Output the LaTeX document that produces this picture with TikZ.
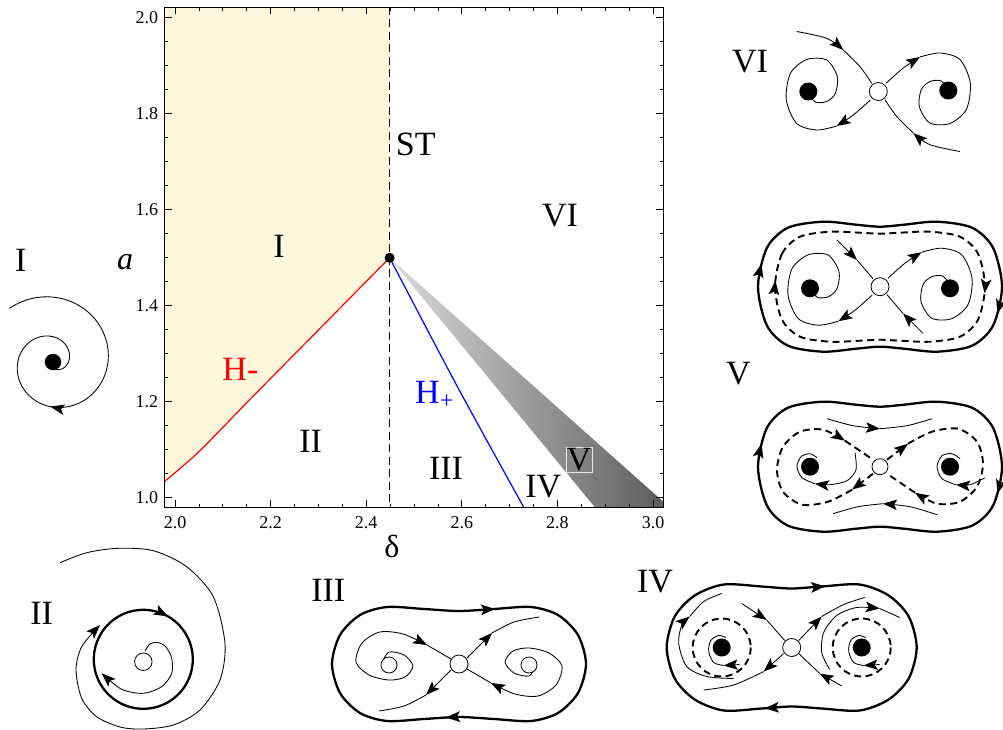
\documentclass[tikz,border=0pt]{standalone}
\usepackage{fontspec}
\setmainfont{Liberation Serif}
\usetikzlibrary{arrows.meta,decorations.markings}
\definecolor{regionyellow}{RGB}{255,248,220}
\newcommand{\sinkspiral}[1]{%
  \draw[flow,tip] plot[smooth] coordinates {(#1*-8,#1*8.5) (#1*-25,#1*23.5) (#1*-41.6,#1*34.5)};
  \draw[flow] plot[smooth] coordinates {(#1*-41.6,#1*34.5) (#1*-61.6,#1*38.5) (#1*-81.6,#1*32) (#1*-92,#1*8.5) (#1*-88,#1*-18) (#1*-71.6,#1*-32) (#1*-51.6,#1*-31.5) (#1*-41,#1*-15) (#1*-43,#1*2) (#1*-51.6,#1*10) (#1*-61.6,#1*11) (#1*-66.6,#1*7)}}
\newcommand{\orbitV}{\draw[orbit,arr=0.48,arr=0.974] plot[smooth cycle] coordinates {(-122,0) (-113,-39) (-92,-59) (-57,-65) (-24,-62) (0,-60) (24,-62) (57,-65) (92,-59) (113,-39) (122,0) (113,39) (92,59) (57,65) (24,62) (0,60) (-24,62) (-57,65) (-92,59) (-113,39)}}

\begin{document}
\begin{tikzpicture}[x=1pt,y=-1pt,
  flow/.style={line width=0.85pt},
  orbit/.style={line width=2.3pt},
  cyc/.style={line width=1.9pt,dash pattern=on 7pt off 4.5pt},
  tip/.style={-{Stealth[length=14pt,width=10.5pt,inset=3pt]}},
  arr/.style={postaction={decorate,decoration={markings,
      mark=at position #1 with {\arrow{Stealth[length=14pt,width=10.5pt,inset=3pt]}}}}},
  src/.style={circle,draw,fill=white,line width=0.8pt,minimum size=18pt,inner sep=0pt},
  sink/.style={circle,fill=black,minimum size=18pt,inner sep=0pt},
  lbl/.style={font=\fontsize{34}{34}\selectfont,inner sep=0pt},
  ticklbl/.style={font=\fontsize{18}{18}\selectfont,inner sep=0pt}]
\useasboundingbox (0,0) rectangle (1003,730);

% parameter plane (delta, a)
\begin{scope}[shift={(-781,977.3)},x=478pt,y=480pt]
  \fill[regionyellow] (1.9776,2.0215) -- (2.449,2.0215) -- (2.449,1.499)
    -- plot[smooth] coordinates {(2.449,1.499) (2.35,1.399) (2.25,1.298) (2.15,1.197) (2.05,1.095) (1.9776,1.0325)} -- cycle;
  \shade[left color=black!14,right color=black!64] (2.449,1.499) -- (3.0224,0.99) -- (3.0224,0.9785) -- (2.879,0.9785) -- cycle;
  \draw[red,line width=1.2pt] plot[smooth] coordinates {(1.9776,1.0325) (2.05,1.095) (2.15,1.197) (2.25,1.298) (2.35,1.399) (2.449,1.499)};
  \draw[blue,line width=1.2pt] plot[smooth] coordinates {(2.449,1.499) (2.59,1.232) (2.73,0.9785)};
  \draw[line width=1.3pt,dash pattern=on 8pt off 4.5pt] (2.449,2.0215) -- (2.449,0.9785);
  \draw[line width=0.9pt] (1.9776,0.9785) rectangle (3.0224,2.0215);
  \foreach \i in {0,...,20} {
    \pgfmathsetmacro{\dx}{2+0.05*\i}
    \pgfmathsetmacro{\ay}{1+0.05*\i}
    \draw[line width=0.7pt] (\dx,0.9785) -- ++(0,4pt) (\dx,2.0215) -- ++(0,-4pt)
      (1.9776,\ay) -- ++(4pt,0) (3.0224,\ay) -- ++(-4pt,0);
  }
  \foreach \t [count=\k] in {2.0,2.2,2.4,2.6,2.8,3.0} {
    \draw[line width=0.7pt] (\t,0.9785) -- ++(0,7.5pt) (\t,2.0215) -- ++(0,-7.5pt);
    \node[ticklbl,anchor=north] (xt\k) at ([yshift=-9pt]\t,0.9785) {\t};
  }
  \foreach \t [count=\k] in {1.0,1.2,1.4,1.6,1.8,2.0} {
    \draw[line width=0.7pt] (1.9776,\t) -- ++(7.5pt,0) (3.0224,\t) -- ++(-7.5pt,0);
    \node[ticklbl,anchor=east] (yt\k) at ([xshift=-6pt]1.9776,\t) {\t};
  }
  \node[circle,fill=black,inner sep=0pt,minimum size=10pt] (st) at (2.449,1.499) {};
\end{scope}

% region labels
\node[lbl] (lST) at (415.8,144.6) {ST};
\node[lbl] (lVIp) at (560,216) {VI};
\node[lbl] (lIp) at (279,246.4) {I};
\node[lbl] (lIIp) at (310.6,441) {II};
\node[lbl] (lIIIp) at (446,468.3) {III};
\node[lbl] (lIVp) at (543.3,486.7) {IV};
\node[lbl,draw=black!9,line width=0.4pt,minimum width=26pt,minimum height=25pt] (lVp) at (578.8,459.2) {V};
\node[lbl,text=red] (lHm) at (240.4,369) {H-};
\node[lbl,text=blue,anchor=base west] (lHp) at (415,403) {H\raisebox{-5pt}{\fontsize{24}{24}\selectfont +}};
\node[font=\fontsize{32}{32}\selectfont\itshape,inner sep=0pt] (la) at (125,262) {a};
\node[font=\fontsize{32}{32}\selectfont,inner sep=0pt] (ld) at (392,546.4) {δ};

% portrait labels
\node[lbl] (tI) at (20.7,260) {I};
\node[lbl] (tII) at (41.7,613.3) {II};
\node[lbl] (tIII) at (328.3,590) {III};
\node[lbl] (tIV) at (655,582) {IV};
\node[lbl] (tV) at (738.3,373.3) {V};
\node[lbl] (tVI) at (750,61.7) {VI};

% I
\draw[flow,arr=0.58] plot[domain=-129:440,samples=150,variable=\t] ({53+(55-0.11*\t)*cos(\t)},{362+(55-0.11*\t)*sin(\t)});
\node[sink,minimum size=16.5pt] (fI) at (53,362) {};

% II
\draw[orbit,arr=0.833] plot[domain=0:360,samples=91,variable=\t] ({143.3+49.5*cos(\t)},{659.3+49.5*sin(\t)}) -- cycle;
\draw[flow,tip] plot[smooth] coordinates {(60,562.7) (86.7,552.7) (118.3,548.3) (153.3,550.7) (186.7,566.7) (213.3,596.7) (225,643.3) (220,680) (200,710) (173.3,725) (143.3,729) (120,727) (96.7,716.7) (81.7,698.3) (76,670) (81.7,646.7) (100,625)};
\draw[flow,tip] plot[smooth] coordinates {(145,651) (150,644) (158,642.5) (166,647) (171.7,658.3) (171.7,673.3) (161.7,686.7) (143.3,693.3) (121.7,689.3) (101.7,673.3)};
\node[src,minimum size=17.5pt] (fII) at (143.3,661.7) {};

% III
\begin{scope}[shift={(459,664)}]
  \draw[orbit,arr=0.259,arr=0.723] plot[smooth cycle] coordinates {(-127,0) (-119,-29) (-99,-49) (-72,-57) (-35,-55) (0,-53) (35,-55) (72,-57) (99,-49) (119,-29) (127,0) (119,29) (99,49) (72,57) (35,55) (0,53) (-35,55) (-72,57) (-99,49) (-119,29)};
  \foreach \sg in {1,-1} {
    \draw[flow,tip] plot[smooth] coordinates {(\sg*-76,\sg*-3) (\sg*-70,\sg*-12) (\sg*-55,\sg*-9) (\sg*-46,\sg*2) (\sg*-54,\sg*13) (\sg*-70,\sg*16) (\sg*-90,\sg*11) (\sg*-103,\sg*-2) (\sg*-97,\sg*-21) (\sg*-79,\sg*-32) (\sg*-56,\sg*-30) (\sg*-32,\sg*-19)};
    \draw[flow] (\sg*-32,\sg*-19) -- (\sg*-8,\sg*-5);
    \draw[flow,tip] (\sg*8,\sg*-6) -- (\sg*33,\sg*-31);
    \draw[flow] plot[smooth] coordinates {(\sg*33,\sg*-31) (\sg*55,\sg*-42) (\sg*80,\sg*-47)};
  }
  \node[src] (sIII) at (0,0) {};
  \node[src,minimum size=16pt] (lIII) at (-70,1) {};
  \node[src,minimum size=16pt] (rIII) at (70,1) {};
\end{scope}

% IV
\begin{scope}[shift={(791.7,647.5)}]
  \draw[orbit,arr=0.252,arr=0.742] plot[smooth cycle] coordinates {(-125,0) (-117,-31) (-97,-52) (-68,-63) (-30,-61) (0,-59) (30,-61) (68,-63) (97,-52) (117,-31) (125,0) (117,31) (97,52) (68,63) (30,61) (0,59) (-30,61) (-68,63) (-97,52) (-117,31)};
  \foreach \c/\n in {-70/l,70/r} {
    \draw[cyc] (\c,0) circle[radius=29];
    \draw[flow,tip] (\c+18,17) -- (\c+2,18);
    \draw[flow] plot[smooth] coordinates {(\c+2,18) (\c-8,15) (\c-13,4) (\c-11,-7) (\c-3,-12) (\c+4,-10)};
    \node[sink] (f\n IV) at (\c,0) {};
  }
  \draw[flow,tip] plot[smooth] coordinates {(-58,31) (-85,29) (-105,19) (-113,-4) (-110,-22) (-102,-31)};
  \draw[flow] plot[smooth] coordinates {(-102,-31) (-88,-46) (-70,-54)};
  \draw[flow,tip] plot[smooth] coordinates {(38,22) (30,5) (32,-15) (45,-32) (65,-40) (88,-39)};
  \draw[flow] (88,-39) -- (108,-30);
  \draw[flow,tip] (-50,-44) -- (-25,-27.5);
  \draw[flow] (-25,-27.5) -- (-7,-7);
  \draw[flow,tip] (50,38.5) -- (28,26);
  \draw[flow] (28,26) -- (7,6);
  \draw[flow,tip] (7,-7) -- (30,-31);
  \draw[flow] plot[smooth] coordinates {(30,-31) (52,-43) (73,-50)};
  \draw[flow,tip] (-8,6) -- (-28,24);
  \draw[flow] plot[smooth] coordinates {(-28,24) (-58,37.5) (-88,42.5)};
  \node[src] (sIV) at (0,0) {};
\end{scope}

% VI
\begin{scope}[shift={(878.3,91.5)}]
  \foreach \sg in {1,-1} {
    \sinkspiral{\sg};
    \draw[flow,tip] plot[smooth] coordinates {(\sg*-81.6,\sg*-60) (\sg*-51.6,\sg*-53.2) (\sg*-35,\sg*-41.5)};
    \draw[flow] plot[smooth] coordinates {(\sg*-35,\sg*-41.5) (\sg*-18.3,\sg*-24.8) (\sg*-6.6,\sg*-8.2)};
  }
  \node[src] (sVI) at (0,0) {};
  \node[sink] (lVI) at (-70,0) {};
  \node[sink] (rVI) at (70,-1) {};
\end{scope}

% V, upper
\begin{scope}[shift={(880,286.7)}]
  \orbitV;
  \draw[cyc,arr=0.451,arr=0.95] plot[smooth cycle] coordinates {(-105,0) (-98,-33) (-80,-50) (-50,-55) (-20,-54) (0,-53) (20,-54) (50,-55) (80,-50) (98,-33) (105,0) (98,33) (80,50) (50,55) (20,54) (0,53) (-20,54) (-50,55) (-80,50) (-98,33)};
  \foreach \sg in {1,-1} {
    \sinkspiral{\sg};
    \draw[flow,tip] (\sg*-43,\sg*-46.7) -- (\sg*-23,\sg*-26.7);
    \draw[flow] (\sg*-23,\sg*-26.7) -- (\sg*-7,\sg*-8);
  }
  \node[src] (sVa) at (0,0) {};
  \node[sink] (lVa) at (-70,1.6) {};
  \node[sink] (rVa) at (70,1.6) {};
\end{scope}

% V, lower
\begin{scope}[shift={(880,466.7)}]
  \orbitV;
  \foreach \sg in {1,-1} {
    \draw[cyc,tip] (\sg*-7,\sg*7) -- (\sg*-28,\sg*23);
    \draw[cyc,tip] plot[smooth] coordinates {(\sg*-28,\sg*23) (\sg*-52,\sg*35) (\sg*-78,\sg*38) (\sg*-97,\sg*25) (\sg*-103,\sg*3) (\sg*-97,\sg*-20) (\sg*-80,\sg*-35) (\sg*-57,\sg*-37) (\sg*-35,\sg*-26)};
    \draw[cyc] (\sg*-35,\sg*-26) -- (\sg*-7,\sg*-7);
  }
  \draw[flow,tip] plot[smooth] coordinates {(-25,-14) (-24,3) (-33,14) (-50,18) (-65,17)};
  \draw[flow] plot[smooth] coordinates {(-65,17) (-78,11) (-83,0) (-79,-10) (-70,-13) (-63,-9)};
  \draw[flow,tip] plot[smooth] coordinates {(105,11) (90,18) (76,18)};
  \draw[flow] plot[smooth] coordinates {(76,18) (62,12) (57,0) (62,-11) (72,-13) (80,-8)};
  \draw[flow,tip] plot[smooth] coordinates {(-53,-48) (-27,-41) (0,-38)};
  \draw[flow] plot[smooth] coordinates {(0,-38) (27,-41) (52,-48)};
  \draw[flow,tip] plot[smooth] coordinates {(57,48) (30,40) (3,37)};
  \draw[flow] plot[smooth] coordinates {(3,37) (-22,40) (-47,47)};
  \node[src,minimum size=16pt] (sVb) at (0,0) {};
  \node[sink] (lVb) at (-70,0) {};
  \node[sink] (rVb) at (70,0) {};
\end{scope}
\end{tikzpicture}
\end{document}
